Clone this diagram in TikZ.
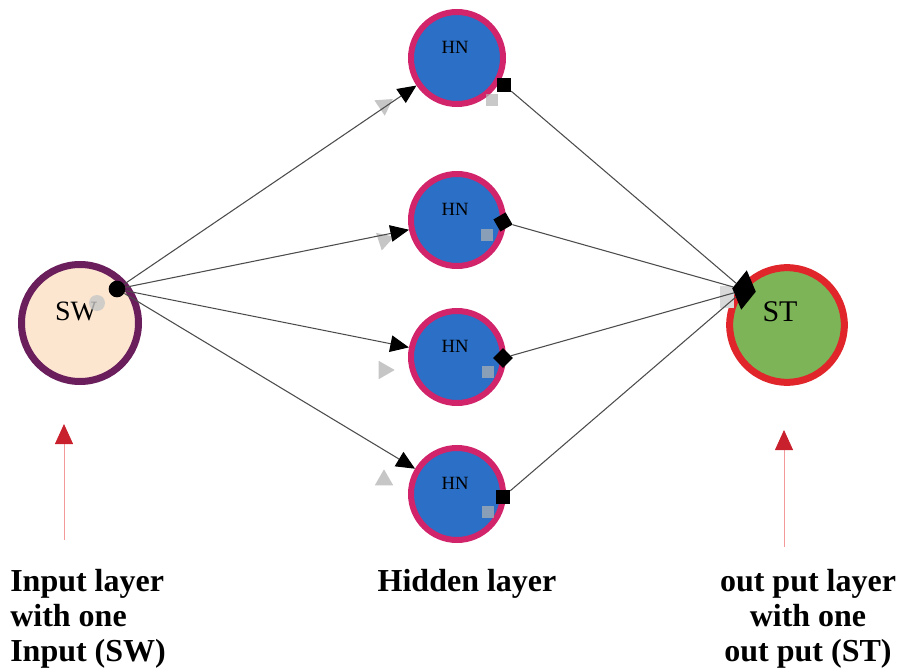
\documentclass[tikz,border=0pt]{standalone}
\usepackage{fontspec}
\setmainfont{Liberation Serif}
\usetikzlibrary{arrows.meta, positioning, calc, shapes.geometric}
\definecolor{swFill}{HTML}{FCE6D0}
\definecolor{swRim}{HTML}{6A1E5C}
\definecolor{hnFill}{HTML}{2B70C6}
\definecolor{hnRim}{HTML}{D1246B}
\definecolor{stFill}{HTML}{7DB458}
\definecolor{stRim}{HTML}{E0262B}
\definecolor{tipRed}{HTML}{C8202C}
\definecolor{stemRed}{HTML}{F29A9A}
\definecolor{linkGray}{gray}{0.3}

\begin{document}
\begin{tikzpicture}[x=0.75pt, y=-0.75pt,
    swnode/.style={circle, draw=swRim, fill=swFill, line width=5.25pt, minimum size=87.75pt, inner sep=0pt},
    hnnode/.style={circle, draw=hnRim, fill=hnFill, line width=4.5pt, minimum size=69pt, inner sep=0pt},
    stnode/.style={circle, draw=stRim, fill=stFill, line width=5.25pt, minimum size=86pt, inner sep=0pt},
    link/.style={linkGray, line width=0.8pt, -{Triangle[length=14pt, width=12.5pt, color=black]}},
    plain/.style={linkGray, line width=0.8pt},
    tail/.style={fill=black, rectangle, minimum size=10.5pt, inner sep=0pt},
    ghost/.style={fill=gray!45, draw=none, inner sep=0pt},
    ghosttip/.style={ghost, isosceles triangle, isosceles triangle apex angle=60, minimum height=12pt},
    caption/.style={font=\fontsize{24}{26.25}\selectfont\bfseries, inner sep=0pt},
    pointer/.style={stemRed, line width=0.6pt, -{Triangle[length=15pt, width=13.5pt, color=tipRed]}}
]
    \useasboundingbox (0,0) rectangle (902,670);

    % input, hidden and output neurons
    \node[swnode] (sw) at (80,323) {};
    \node[font=\fontsize{21}{21}\selectfont] (swtxt) at (76,311) {SW};
    \foreach \i/\y in {1/58, 2/220, 3/357, 4/494} {
        \node[hnnode] (hn\i) at (457,\y) {};
        \node[font=\fontsize{14}{14}\selectfont] (hntxt\i) at (455,\y-11) {HN};
    }
    \node[stnode] (st) at (787,325) {};
    \node[font=\fontsize{22.5}{22.5}\selectfont] (sttxt) at (780,312) {ST};

    % faint ghost marks
    \node[ghost, circle, minimum size=12pt, opacity=0.8] (swghost) at (97,303) {};
    \foreach \i/\y/\r in {1/105/34, 2/240/18, 3/370/0, 4/480/90}
        \node[ghosttip, rotate=\r] (gtip\i) at (384,\y) {};
    \foreach \i/\x/\y in {1/492/100, 2/487/235, 3/488/372, 4/488/512}
        \node[ghost, minimum size=9pt, fill=gray!60, opacity=0.7] (gsq\i) at (\x,\y) {};
    \node[ghost, minimum width=10pt, minimum height=16pt, fill=gray!30] (stghost) at (727,297) {};

    % tails of the links
    \node[fill=black, circle, minimum size=12.5pt, inner sep=0pt] (swdot) at (117,289) {};
    \node[tail] (out1) at (504,85) {};
    \node[tail, rotate=30] (out2) at (503,222) {};
    \node[tail, rotate=45] (out3) at (503,358) {};
    \node[tail] (out4) at (503,497) {};
    \node[diamond, fill=black, inner sep=0pt, minimum width=18pt, minimum height=30pt, rotate=-8] (stdot) at (744,290) {};

    % weights
    \foreach \i in {1,...,4} {
        \draw[link] (swdot) -- (hn\i);
        \draw[plain] (out\i) -- (stdot);
    }

    % layer pointers
    \coordinate (inbase) at (64,540);
    \coordinate (intip) at (64,424);
    \coordinate (outbase) at (784,547);
    \coordinate (outtip) at (784,430);
    \draw[pointer] (inbase) -- (intip);
    \draw[pointer] (outbase) -- (outtip);

    \node[caption, align=left, anchor=north west] (incap) at (10,569) {Input layer\\with one\\Input (SW)};
    \node[caption, anchor=north] (hidcap) at (467,569) {Hidden layer};
    \node[caption, align=center, anchor=north] (outcap) at (808,569) {out put layer\\with one\\out put (ST)};
\end{tikzpicture}
\end{document}
